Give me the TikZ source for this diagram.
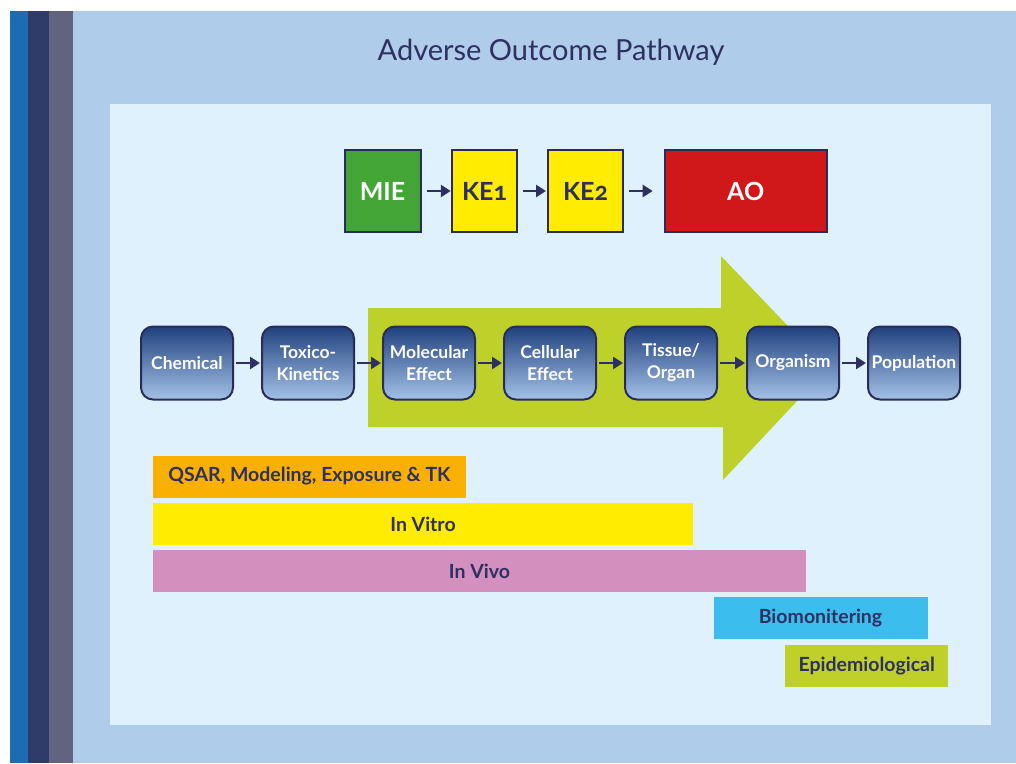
\documentclass[tikz,border=0pt]{standalone}
\usepackage{fontspec}
\setmainfont{Lato}
\usetikzlibrary{arrows.meta}

\definecolor{stripeA}{HTML}{1B6CB2}
\definecolor{stripeB}{HTML}{2E3A68}
\definecolor{stripeC}{HTML}{64637F}
\definecolor{frameblue}{HTML}{AFCCEB}
\definecolor{panelblue}{HTML}{DFF1FD}
\definecolor{navy}{HTML}{2E3160}
\definecolor{boxedge}{HTML}{2A2C58}
\definecolor{shadetop}{HTML}{21417F}
\definecolor{shadebot}{HTML}{A3C1E6}
\definecolor{miegreen}{HTML}{43A535}
\definecolor{keyellow}{HTML}{FFEC00}
\definecolor{aored}{HTML}{D01719}
\definecolor{arrowgreen}{HTML}{BDD12A}
\definecolor{qsarorange}{HTML}{F9B000}
\definecolor{vivopink}{HTML}{D38FBE}
\definecolor{biocyan}{HTML}{3BBEEE}
\definecolor{epigreen}{HTML}{BFD02B}

\begin{document}
\begin{tikzpicture}[x=1pt,y=-1pt,
  eventbox/.style={draw=boxedge, line width=2pt, rectangle, inner sep=0pt, outer sep=0pt,
    minimum height=82pt, font=\fontsize{25}{28}\selectfont\bfseries\addfontfeatures{Numbers=OldStyle}},
  stagebox/.style={draw=boxedge, line width=2pt, rounded corners=12pt, inner sep=0pt, outer sep=0pt,
    minimum width=92pt, minimum height=73pt, top color=shadetop, bottom color=shadebot,
    text=white, align=center, font=\fontsize{17.5}{22}\selectfont\bfseries},
  methodbar/.style={rectangle, inner sep=0pt, outer sep=0pt, minimum height=42pt,
    text=navy, font=\fontsize{19.5}{21}\selectfont\bfseries},
  flow/.style={draw=navy, line width=2.6pt, -{Triangle[length=10pt,width=12pt]}},
]
\useasboundingbox (0,0) rectangle (1016,763);
\fill[white] (0,0) rectangle (1016,763);

% frame and side stripes
\fill[frameblue] (73,11) rectangle (1016,763);
\fill[stripeA] (10,11) rectangle (28,763);
\fill[stripeB] (28,11) rectangle (49,763);
\fill[stripeC] (49,11) rectangle (73,763);
\fill[panelblue] (110,104) rectangle (991,725);

\node[text=navy, font=\fontsize{29}{32}\selectfont] (title) at (551,52) {Adverse Outcome Pathway};

% key event chain
\node[eventbox, fill=miegreen, text=white, minimum width=76pt] (mie) at (382.5,191) {MIE};
\node[eventbox, fill=keyellow, text=navy, minimum width=64.5pt] (ke1) at (484.5,191) {KE1};
\node[eventbox, fill=keyellow, text=navy, minimum width=75pt] (ke2) at (585.5,191) {KE2};
\node[eventbox, fill=aored, text=white, minimum width=162pt] (ao) at (745.7,191) {AO};
\draw[flow, shorten <=6pt, shorten >=1.5pt] (mie) -- (ke1);
\draw[flow, shorten <=6pt, shorten >=2pt] (ke1) -- (ke2);
\draw[flow, shorten <=6pt, shorten >=12pt] (ke2) -- (ao);

% large green arrow behind the biological levels
\fill[arrowgreen] (368,308) -- (721,308) -- (721,256) -- (828,368)
  -- (723,480) -- (723,427) -- (368,427) -- cycle;

% levels of biological organisation
\node[stagebox] (chem) at (187,363) {Chemical};
\node[stagebox] (tk) at (308,363) {Toxico-\\Kinetics};
\node[stagebox] (mol) at (429,363) {Molecular\\Effect};
\node[stagebox] (cell) at (550,363) {Cellular\\Effect};
\node[stagebox] (tis) at (671,363) {Tissue/\\Organ};
\node[stagebox] (org) at (793,363) {Organism};
\node[stagebox] (pop) at (914,363) {Population};
\foreach \a/\b in {chem/tk, tk/mol, mol/cell, cell/tis, tis/org, org/pop}
  \draw[flow, shorten <=3pt, shorten >=2pt] (\a) -- (\b);

% method coverage bars
\node[methodbar, fill=qsarorange, minimum width=313pt] (qsar) at (309.5,476.5) {QSAR, Modeling, Exposure \& TK};
\node[methodbar, fill=keyellow, minimum width=540pt] (vitro) at (423,524) {In Vitro};
\node[methodbar, fill=vivopink, minimum width=653pt] (vivo) at (479.5,571) {In Vivo};
\node[methodbar, fill=biocyan, minimum width=214pt] (bio) at (820.5,618.3) {Biomonitering};
\node[methodbar, fill=epigreen, minimum width=163pt] (epi) at (866.7,666) {Epidemiological};
\end{tikzpicture}
\end{document}
